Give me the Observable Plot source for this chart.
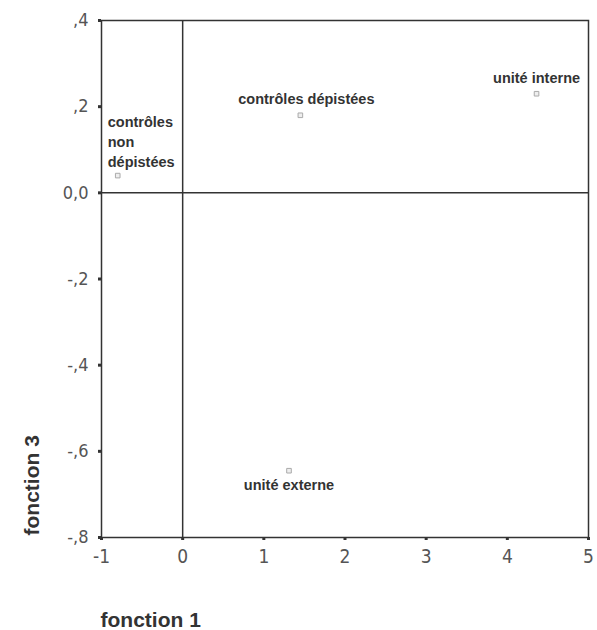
<!DOCTYPE html>
<html>
<head>
<meta charset="utf-8">
<script src="https://cdn.jsdelivr.net/npm/d3@7"></script>
<script src="https://cdn.jsdelivr.net/npm/@observablehq/plot@0.6"></script>
<style>
  html, body { margin: 0; padding: 0; background: #fff; }
</style>
</head>
<body>
<div id="chart"></div>
<script>
// Group centroids (discriminant functions 1 and 3)
const groups = ["contrôles\nnon\ndépistées", "contrôles dépistées", "unité interne", "unité externe"];
const fonction1 = [-0.80, 1.45, 4.36, 1.31];
const fonction3 = [0.04, 0.18, 0.23, -0.645];

const xTicks = [-1, 0, 1, 2, 3, 4, 5];
const yTicks = [-0.8, -0.6, -0.4, -0.2, 0, 0.2, 0.4];
const yTickLabels = ["-,8", "-,6", "-,4", "-,2", "0,0", ",2", ",4"];

const data = groups.map((g, i) => ({group: g, x: fonction1[i], y: fonction3[i]}));
const lab = (i) => [data[i]];

const labelStyle = {fontSize: 14.5, fontWeight: "bold", fill: "#333", fontFamily: "Liberation Sans, Arial, sans-serif"};
const tickFont = "'Liberation Sans Narrow', 'DejaVu Sans Condensed', 'Liberation Sans', sans-serif";

const chart = Plot.plot({
  width: 597,
  height: 630,
  marginLeft: 101,
  marginRight: 9,
  marginTop: 20,
  marginBottom: 93,
  style: {background: "#fff", fontFamily: "Liberation Sans, Arial, sans-serif"},
  x: {domain: [-1, 5]},
  y: {domain: [-0.8, 0.4]},
  marks: [
    Plot.ruleX([0], {stroke: "#333", strokeWidth: 1.5}),
    Plot.ruleY([0], {stroke: "#333", strokeWidth: 1.5}),
    Plot.frame({stroke: "#333", strokeWidth: 1.5}),
    Plot.axisX({ticks: xTicks, tickSize: 3, tickPadding: 9, strokeWidth: 3, stroke: "#333",
      fill: "#555", fontSize: 19, fontFamily: tickFont, label: null, tickFormat: d => String(d)}),
    Plot.axisY({ticks: yTicks, tickSize: 3, tickPadding: 10, strokeWidth: 3, stroke: "#333",
      fill: "#555", fontSize: 18, fontFamily: tickFont, label: null,
      tickFormat: d => yTickLabels[yTicks.findIndex(t => Math.abs(t - d) < 1e-9)]}),
    Plot.dot(data, {x: "x", y: "y", symbol: "square", r: 2.6, stroke: "#aaa", strokeWidth: 1, fill: "#eee"}),
    Plot.text(lab(0), {x: "x", y: "y", text: "group", textAnchor: "start", lineAnchor: "bottom",
      lineHeight: 1.36, dx: -10, dy: -9, ...labelStyle}),
    Plot.text(lab(1), {x: "x", y: "y", text: "group", textAnchor: "middle", lineAnchor: "bottom",
      dx: 6, dy: -11, ...labelStyle}),
    Plot.text(lab(2), {x: "x", y: "y", text: "group", textAnchor: "middle", lineAnchor: "bottom",
      dx: 0, dy: -11, ...labelStyle}),
    Plot.text(lab(3), {x: "x", y: "y", text: "group", textAnchor: "middle", lineAnchor: "bottom",
      dx: 0, dy: 19, ...labelStyle}),
    Plot.text(["fonction 1"], {frameAnchor: "bottom-left", text: d => d, textAnchor: "start", lineAnchor: "bottom",
      dx: -1, dy: 89, fontSize: 21, fontWeight: "bold", fill: "#333"}),
    Plot.text(["fonction 3"], {frameAnchor: "bottom-left", text: d => d, textAnchor: "start", lineAnchor: "bottom",
      rotate: -90, dx: -63, dy: -2, fontSize: 21, fontWeight: "bold", fill: "#333"})
  ]
});
document.getElementById("chart").appendChild(chart);
</script>
</body>
</html>
